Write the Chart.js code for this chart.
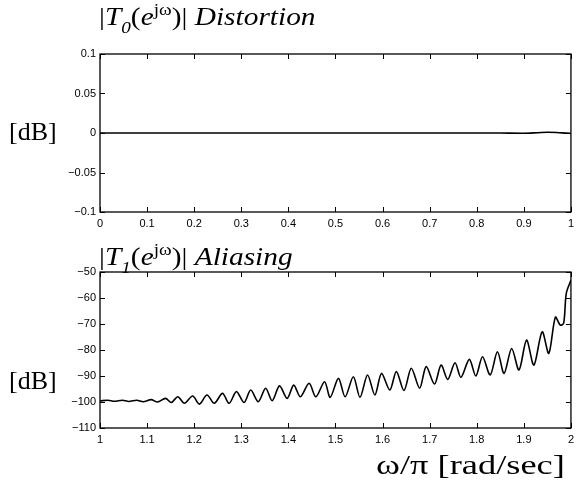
<!DOCTYPE html>
<html>
<head>
<meta charset="utf-8">
<script src="https://cdn.jsdelivr.net/npm/chart.js@4.4.1/dist/chart.umd.min.js"></script>
<style>
  body { margin: 0; background: #fff; width: 579px; height: 481px; position: relative; overflow: hidden; }
  .box { position: absolute; left: 0; width: 579px; }
  .serif { position: absolute; font-family: "Liberation Serif", "DejaVu Serif", serif; color: #000; white-space: nowrap; line-height: 1; transform-origin: left top; }
  .serif sub, .serif sup { font-size: 17px; line-height: 0; }
  .serif sub { position: relative; top: 2px; }
</style>
</head>
<body>
<div class="box" style="top:0;height:240px"><canvas id="distChart"></canvas></div>
<div class="box" style="top:240px;height:241px"><canvas id="aliasChart"></canvas></div>

<div class="serif" style="left:99px;top:4px;font-size:26px;transform:scaleX(1.13)">|<i>T</i><sub><i>0</i></sub>(<i>e</i><sup>jω</sup>)| <i>Distortion</i></div>
<div class="serif" style="left:99px;top:244px;font-size:26px;transform:scaleX(1.13)">|<i>T</i><sub><i>1</i></sub>(<i>e</i><sup>jω</sup>)| <i>Aliasing</i></div>
<div class="serif" style="left:9px;top:119px;font-size:26px">[dB]</div>
<div class="serif" style="left:9px;top:368px;font-size:26px">[dB]</div>
<div class="serif" style="left:376px;top:451px;font-size:28px;transform:scaleX(1.3)">ω/π [rad/sec]</div>

<script>
// top panel: distortion |T0|, practically flat at 0 dB
const distW  = [0, 0.1, 0.2, 0.3, 0.4, 0.5, 0.6, 0.7, 0.8, 0.85, 0.9, 0.93, 0.95, 0.97, 0.99, 1];
const distDb = [0, 0, 0, 0, 0, 0, 0, 0, 0, 0, -0.0003, 0.0004, 0.0009, 0.0006, -0.0002, -0.0005];

// bottom panel: aliasing |T1|, rippled and rising towards w = 2
const aliasW = [1.000, 1.0169, 1.0306, 1.0475, 1.0612, 1.0781, 1.0918, 1.1086, 1.1224, 1.1392,
  1.1513, 1.1652, 1.1793, 1.1968, 1.2110, 1.2272, 1.2426, 1.2601, 1.2743, 1.2897,
  1.3059, 1.3200, 1.3361, 1.3517, 1.3656, 1.3812, 1.3973, 1.4114, 1.4255, 1.4440,
  1.4584, 1.4768, 1.4888, 1.5063, 1.5205, 1.5380, 1.5521, 1.5681, 1.5837, 1.5977,
  1.6154, 1.6293, 1.6456, 1.6610, 1.6787, 1.6926, 1.7103, 1.7243, 1.7384, 1.7538,
  1.7665, 1.7842, 1.7981, 1.8122, 1.8285, 1.8439, 1.8580, 1.8741, 1.8897, 1.9057,
  1.9213, 1.9388, 1.9530, 1.9669, 1.9774, 1.9846, 1.9901, 2.000];
const aliasDb = [-99.6, -99.3, -99.7, -99.3, -99.8, -99.3, -99.9, -99.1, -100.0, -98.6,
  -100.2, -98.0, -100.5, -97.7, -100.8, -97.3, -100.5, -96.7, -100.5, -96.0,
  -100.2, -95.4, -99.9, -94.7, -99.5, -93.8, -98.6, -93.5, -98.0, -92.8,
  -98.0, -92.2, -98.2, -90.9, -98.0, -90.3, -98.2, -89.6, -97.3, -89.0,
  -95.4, -88.3, -95.6, -87.0, -94.7, -86.4, -93.1, -85.8, -91.3, -84.9,
  -90.5, -83.6, -90.0, -82.6, -89.6, -80.7, -89.0, -79.4, -87.7, -76.2,
  -85.8, -73.0, -81.3, -67.4, -70.4, -69.7, -58.2, -53.1];

const distXTicks  = [0, 0.1, 0.2, 0.3, 0.4, 0.5, 0.6, 0.7, 0.8, 0.9, 1];
const distYTicks  = [-0.1, -0.05, 0, 0.05, 0.1];
const aliasXTicks = [1, 1.1, 1.2, 1.3, 1.4, 1.5, 1.6, 1.7, 1.8, 1.9, 2];
const aliasYTicks = [-110, -100, -90, -80, -70, -60, -50];

const tickFont = { family: '"Liberation Sans", Arial, sans-serif', size: 11 };
const fmt = v => String(+(+v).toFixed(2)).replace('-', '\u2212');

// matlab style frame with inward tick marks on all four sides
const boxTicks = {
  id: 'boxTicks',
  afterDatasetsDraw(chart) {
    const { ctx, chartArea: a, scales: { x, y } } = chart;
    const len = 5;
    ctx.save();
    ctx.strokeStyle = '#000';
    ctx.lineWidth = 1.3;
    ctx.strokeRect(a.left, a.top, a.right - a.left, a.bottom - a.top);
    ctx.lineWidth = 1;
    ctx.beginPath();
    x.ticks.forEach(t => {
      const px = Math.round(x.getPixelForValue(t.value)) + 0.5;
      ctx.moveTo(px, a.bottom); ctx.lineTo(px, a.bottom - len);
      ctx.moveTo(px, a.top); ctx.lineTo(px, a.top + len);
    });
    y.ticks.forEach(t => {
      const py = Math.round(y.getPixelForValue(t.value)) + 0.5;
      ctx.moveTo(a.left, py); ctx.lineTo(a.left + len, py);
      ctx.moveTo(a.right, py); ctx.lineTo(a.right - len, py);
    });
    ctx.stroke();
    ctx.restore();
  }
};

function makeChart(id, xs, ys, xTicks, yTicks, padTop, xAxisH) {
  return new Chart(document.getElementById(id), {
    type: 'line',
    data: {
      datasets: [{
        data: xs.map((w, i) => ({ x: w, y: ys[i] })),
        borderColor: '#000',
        borderWidth: 1.6,
        pointRadius: 0,
        tension: 0.3,
        fill: false
      }]
    },
    options: {
      responsive: true,
      maintainAspectRatio: false,
      animation: false,
      layout: { padding: { top: padTop, right: 5, left: 0, bottom: 0 } },
      plugins: { legend: { display: false }, tooltip: { enabled: false } },
      scales: {
        x: {
          type: 'linear',
          min: xTicks[0],
          max: xTicks[xTicks.length - 1],
          afterBuildTicks: s => { s.ticks = xTicks.map(v => ({ value: v })); },
          afterFit: s => { s.height = xAxisH; },
          grid: { display: false, drawTicks: false },
          border: { display: false },
          ticks: { font: tickFont, color: '#000', padding: 5, autoSkip: false, maxRotation: 0, callback: fmt }
        },
        y: {
          min: yTicks[0],
          max: yTicks[yTicks.length - 1],
          afterBuildTicks: s => { s.ticks = yTicks.map(v => ({ value: v })); },
          afterFit: s => { s.width = 100; },
          grid: { display: false, drawTicks: false },
          border: { display: false },
          ticks: { font: tickFont, color: '#000', padding: 4, autoSkip: false, callback: fmt }
        }
      }
    },
    plugins: [boxTicks]
  });
}

makeChart('distChart', distW, distDb, distXTicks, distYTicks, 54, 28);
makeChart('aliasChart', aliasW, aliasDb, aliasXTicks, aliasYTicks, 32, 53);
</script>
</body>
</html>
